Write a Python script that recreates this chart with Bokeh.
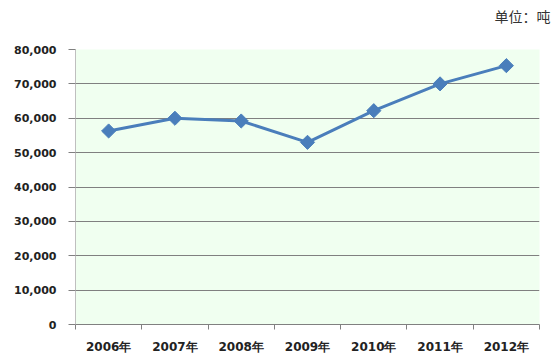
import math
from bokeh.plotting import figure
from bokeh.models import FixedTicker, NumeralTickFormatter, Range1d, Title
from bokeh.embed import file_html
from bokeh.resources import INLINE

years = ["2006年", "2007年", "2008年", "2009年", "2010年", "2011年", "2012年"]
values = [56300, 60000, 59200, 53000, 62200, 70000, 75300]
y_ticks = [0, 10000, 20000, 30000, 40000, 50000, 60000, 70000, 80000]
unit_text = "单位：吨"

xs = [i + 0.5 for i in range(len(years))]

p = figure(width=555, height=359, output_backend="svg", toolbar_location=None,
           x_range=Range1d(0, len(years)), y_range=Range1d(0, 80000),
           min_border_left=75, min_border_right=16, min_border_top=49, min_border_bottom=35)

# a blank second line lifts the unit note higher above the plot area
p.title = Title(text=unit_text + "\n ", align="right", offset=-11, standoff=7,
                text_line_height=1.0,
                text_font="Noto Sans CJK SC", text_font_size="14px",
                text_font_style="normal", text_color="#333333")

p.background_fill_color = "#F0FFF0"
p.border_fill_color = "white"
p.outline_line_color = None

p.line(xs, values, line_color="#4A7EBB", line_width=3)
p.scatter(xs, values, marker="square", angle=math.pi / 4, size=10,
          fill_color="#4A7EBB", line_color="#4A7EBB")

p.xaxis.ticker = FixedTicker(ticks=xs, minor_ticks=list(range(len(years) + 1)))
p.xaxis.major_label_overrides = {x: y for x, y in zip(xs, years)}
p.xaxis.major_tick_line_color = None
p.xaxis.major_tick_out = 0
p.xaxis.major_tick_in = 0
p.xaxis.minor_tick_out = 5
p.xaxis.minor_tick_in = 0
p.xaxis.minor_tick_line_color = "#808080"
p.xaxis.axis_line_color = "#808080"
p.xaxis.major_label_text_font = "DejaVu Sans"
p.xaxis.major_label_text_font_style = "bold"
p.xaxis.major_label_text_font_size = "12px"
p.xaxis.major_label_text_color = "#222222"
p.xaxis.major_label_standoff = 10

p.yaxis.ticker = FixedTicker(ticks=y_ticks, minor_ticks=[])
p.yaxis.formatter = NumeralTickFormatter(format="0,0")
p.yaxis.major_tick_out = 7
p.yaxis.major_tick_in = 0
p.yaxis.major_tick_line_color = "#808080"
p.yaxis.axis_line_color = "#BFBFBF"
p.yaxis.major_label_text_font = "DejaVu Sans"
p.yaxis.major_label_text_font_style = "bold"
p.yaxis.major_label_text_font_size = "11px"
p.yaxis.major_label_text_color = "#222222"
p.yaxis.major_label_standoff = 12

p.xgrid.grid_line_color = None
p.ygrid.ticker = FixedTicker(ticks=y_ticks)
p.ygrid.grid_line_color = "#808080"
p.ygrid.grid_line_width = 1

open("out.html", "w").write(file_html(p, INLINE))
